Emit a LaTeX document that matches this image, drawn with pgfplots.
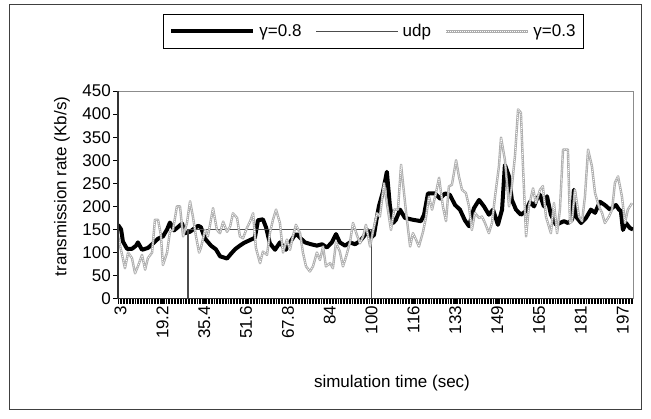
\documentclass[border=0pt]{standalone}
\usepackage{pgfplots}
\pgfplotsset{compat=1.18}
\usepackage{fontspec}
\setmainfont{Liberation Sans}

\begin{document}
\begin{tikzpicture}[font=\fontsize{17bp}{20bp}\selectfont]
\fill[white] (0bp,0bp) rectangle (651bp,419bp);
\draw[black!75, line width=1bp] (9bp,9bp) rectangle (641bp,414bp);
\begin{axis}[
  at={(118bp,120.3bp)}, anchor=south west, scale only axis,
  width=515bp, height=207.7bp,
  xmin=2, xmax=201.4, ymin=0, ymax=450,
  /pgf/number format/assume math mode=true,
  axis line style={draw=black!45, line width=1bp},
  tick align=outside, xtick pos=bottom, ytick pos=left,
  major tick length=5bp, minor tick length=5bp,
  every tick/.style={black, line width=0.6bp},
  ytick={0,50,...,450},
  xtick={3,19.2,35.4,51.6,67.8,84,100.2,116.4,132.6,148.8,165,181.2,197.4},
  xticklabels={3,19.2,35.4,51.6,67.8,84,100,116,133,149,165,181,197},
  minor xtick={2.1,2.7,...,201.3},
  xticklabel style={rotate=90, anchor=east, inner sep=2bp},
  yticklabel style={inner sep=2bp},
  xlabel={simulation time (sec)},
  ylabel={transmission rate (Kb/s)},
  every axis x label/.style={at={(axis description cs:0.532,-0.406)}, anchor=center},
  every axis y label/.style={at={(axis description cs:-0.1087,0.54)}, anchor=center, rotate=90},
  legend columns=3,
  legend style={at={(axis description cs:0.0874,1.3707)}, anchor=north west,
    draw=black, line width=0.8bp, inner xsep=6bp, inner ysep=8bp,
    /tikz/every odd column/.append style={column sep=2bp},
    /tikz/every even column/.append style={column sep=12bp}},
  legend image code/.code={\draw[#1] (0bp,0bp) -- (82bp,0bp);},
  after end axis/.code={\draw[black!80, line width=1.3bp] (rel axis cs:0,1) -- (rel axis cs:0,0) -- (rel axis cs:1,0);},
]
\addplot[black, line width=4bp, line join=round] table {
2.0 160
3.2 150
3.9 124
5.5 108
7.4 108
9.0 115
9.7 122
11.3 106
13.6 110
15.6 120
17.5 130
19.4 135
21.0 150
22.1 165
23.7 148
25.2 155
26.8 163
27.9 142
29.9 145
31.0 150
33.0 158
34.1 155
35.7 130
38.0 115
39.9 107
41.5 92
44.2 87
45.7 97
47.3 107
49.2 115
50.8 121
53.1 127
55.0 132
56.2 170
58.1 172
59.3 155
60.8 120
62.8 106
64.7 122
67.0 106
68.6 122
70.1 135
71.3 140
72.5 132
74.4 122
76.7 118
79.0 115
81.0 118
82.9 111
84.8 122
86.4 140
87.9 122
89.9 115
91.8 122
93.8 118
95.7 125
97.2 135
98.8 148
99.9 132
101.1 138
101.9 165
103.0 200
104.6 232
106.1 275
107.3 200
108.5 164
109.6 171
111.2 193
113.1 175
116.2 171
119.3 168
120.5 182
122.0 228
124.7 228
126.7 217
128.6 228
130.5 225
132.5 203
134.4 193
136.3 170
137.9 157
139.8 196
141.8 214
143.7 200
145.6 182
147.2 193
149.1 160
150.7 193
151.8 290
153.4 265
154.5 214
156.1 193
158.0 182
160.0 190
161.5 210
163.1 200
164.2 217
165.4 225
166.9 200
168.1 222
169.6 182
171.6 160
173.1 164
174.7 168
176.2 164
177.8 171
178.5 236
179.3 178
181.3 164
183.2 175
185.1 193
186.7 186
188.6 210
190.5 203
192.5 193
194.8 203
196.0 193
196.7 190
197.5 149
198.7 164
200.2 153
201.4 150
};
\addlegendentry{γ=0.8}
\addplot[black!70, line width=1.2bp] table {
2.0 0
29.1 0
29.1 150
100.2 150
100.2 0
201.4 0
};
\addlegendentry{udp}
\addplot[black!32, line width=2.4bp, line join=round,
  postaction={draw=white, line width=0.7bp, dash pattern=on 1bp off 1bp}] table {
2.0 135
3.2 105
4.7 66
5.9 100
7.4 88
8.6 55
9.7 70
11.3 95
12.5 63
13.6 88
15.2 100
16.3 171
17.5 171
18.6 138
19.4 73
21.0 100
22.1 145
23.3 149
24.8 200
26.0 200
27.2 135
28.7 164
29.9 211
31.0 178
32.2 135
33.4 100
34.1 110
35.7 149
36.8 135
38.8 196
40.3 149
41.5 142
42.7 167
44.2 145
45.4 156
46.5 185
48.1 175
49.2 135
50.4 131
51.9 153
53.1 167
54.3 185
55.4 110
57.0 77
58.1 102
59.7 95
60.8 142
62.0 171
63.2 193
64.7 164
65.9 100
67.4 128
68.6 106
69.7 135
70.9 160
72.5 142
73.6 100
74.8 70
76.3 59
77.5 70
79.0 100
80.2 84
81.4 113
82.5 70
84.1 77
85.2 66
86.4 122
87.9 102
89.1 70
90.3 91
91.8 122
93.0 164
94.5 138
95.7 120
96.9 135
98.0 160
99.6 113
100.7 145
102.3 185
103.4 178
105.0 250
106.1 207
107.7 149
108.9 193
110.4 193
111.6 290
113.5 189
115.1 113
116.2 142
117.4 128
118.5 113
120.1 145
121.2 175
122.4 221
123.6 193
125.1 229
126.3 262
127.8 200
129.0 168
130.1 243
131.3 247
132.9 300
134.0 265
135.2 236
136.7 229
137.9 200
139.0 149
140.2 186
141.8 175
142.9 178
144.1 164
145.6 142
146.8 164
148.0 222
149.5 287
150.3 349
151.8 301
153.4 200
154.5 244
155.7 309
156.9 410
158.0 403
158.8 287
160.0 135
161.1 200
162.7 239
163.8 207
165.4 236
166.5 244
167.7 178
169.6 142
170.8 207
172.0 142
173.1 193
174.3 323
176.2 323
177.0 164
177.8 168
178.9 236
180.5 178
181.7 168
182.8 222
184.0 323
185.5 287
186.7 229
188.2 200
189.4 186
190.5 164
192.1 178
193.3 193
194.4 251
195.6 265
197.1 222
198.3 164
199.4 193
201.0 207
};
\addlegendentry{γ=0.3}
\end{axis}
\end{tikzpicture}
\end{document}
